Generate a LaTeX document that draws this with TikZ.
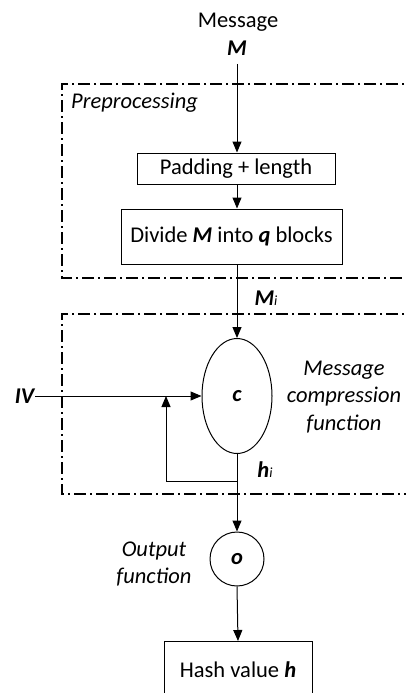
\documentclass[tikz,border=0pt]{standalone}
\usepackage{fontspec}
\setmainfont{Carlito}
\usetikzlibrary{arrows.meta,shapes.geometric}
\begin{document}
\begin{tikzpicture}[x=1pt,y=-1pt,
  every node/.style={font=\fontsize{22.5}{27.5}\selectfont, inner sep=0pt},
  box/.style={draw, line width=1pt, rectangle},
  arr/.style={line width=1pt, -{Triangle[length=11pt,width=9pt]}},
  ln/.style={line width=1pt},
  region/.style={line width=1.1pt, dash pattern=on 12pt off 4pt on 2pt off 4pt},
  lbl/.style={font=\fontsize{22.5}{27.5}\selectfont\itshape, align=center}]
\useasboundingbox (0,0) rectangle (406,693);
% regions
\draw[region] (420,84) -- (62,84) -- (62,278) -- (420,278);
\draw[region] (420,314) -- (62,314) -- (62,494) -- (420,494);
\node[lbl, anchor=west] (pre) at (71,103) {Preprocessing};
\node[lbl] (mcf) at (344,397) {Message\\compression\\function};
\node[lbl] (of) at (154,564) {Output\\function};
% nodes
\node (msg) at (238,22) {Message};
\node (M) at (237,48) {\textbf{\textit{M}}};
\coordinate (m0) at (237,64);
\node[box, minimum width=198pt, minimum height=31pt] (pad) at (236,168.5) {Padding + length};
\node[box, minimum width=221pt, minimum height=55pt] (div) at (231.5,236.5) {Divide \textbf{\textit{M}} into \textbf{\textit{q}} blocks};
\node[draw, ellipse, line width=1pt, minimum width=70pt, minimum height=115pt] (c) at (237,396) {\textbf{\textit{c}}};
\node (iv) at (25,396) {\textbf{\textit{IV}}};
\node (mi) at (266,298) {\textbf{\textit{M}}\textit{\fontsize{14}{14}\selectfont i}};
\node (hi) at (265,470) {\textbf{\textit{h}}\textit{\fontsize{14}{14}\selectfont i}};
\coordinate (fb) at (237,481);
\coordinate (join) at (166,396);
\node[draw, circle, line width=1pt, minimum size=54pt] (o) at (237,559) {\textbf{\textit{o}}};
\node[box, minimum width=148pt, minimum height=70pt, anchor=north] (hash) at (238,641) {};
\node (hv) at (238,670) {Hash value \textbf{\textit{h}}};
% connectors
\draw[arr] (m0) -- (m0 |- pad.north);
\draw[arr] (m0 |- pad.south) -- (m0 |- div.north);
\draw[arr] (m0 |- div.south) -- (c.north);
\draw[arr] (iv.east) -- (c.west);
\draw[ln] (c.south) -- (fb);
\draw[arr] (fb) -| (join);
\draw[arr] (fb) -- (o.north);
\draw[arr] (o.south) -- (hash.north);
\end{tikzpicture}
\end{document}
